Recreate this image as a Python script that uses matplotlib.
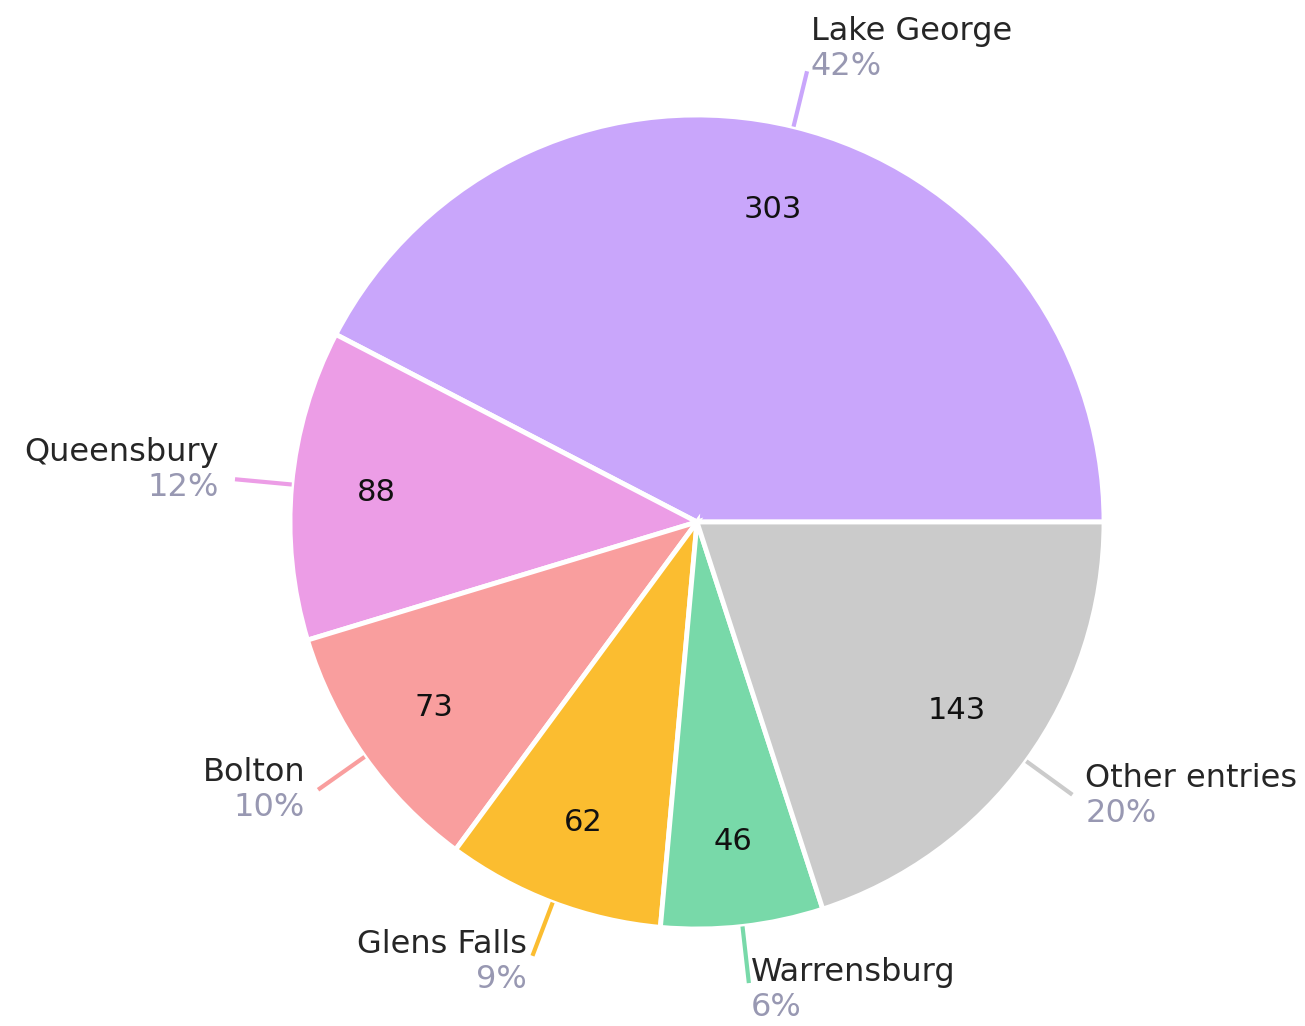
import numpy as np
import matplotlib.pyplot as plt

plt.rcdefaults()
plt.rcParams['font.family'] = ['DejaVu Sans']

towns = ['Lake George', 'Queensbury', 'Bolton', 'Glens Falls', 'Warrensburg', 'Other entries']
counts = [303, 88, 73, 62, 46, 143]
colors = ['#C9A6FB', '#EC9DE6', '#F99E9E', '#FBBD30', '#78D9A9', '#CBCBCB']

W, H = 1305, 1026
fig = plt.figure(figsize=(W / 100, H / 100), dpi=100)
ax = fig.add_axes([0, 0, 1, 1])

cx, cy, R = 697, H - 522, 407
total = sum(counts)

wedges, texts = ax.pie(
    counts, colors=colors, startangle=0, counterclock=True,
    center=(cx, cy), radius=R, labels=[str(c) for c in counts],
    labeldistance=0.79, frame=True,
    wedgeprops=dict(edgecolor='white', linewidth=3.5),
    textprops=dict(fontsize=22, color='#111111', ha='center', va='center'),
)
ax.set_xlim(0, W)
ax.set_ylim(0, H)
ax.set_aspect('equal')
ax.axis('off')

# leader lines and outside labels
for w, name, n, col in zip(wedges, towns, counts, colors):
    mid = np.deg2rad((w.theta1 + w.theta2) / 2)
    c, s = np.cos(mid), np.sin(mid)
    x0, y0 = cx + R * 1.0 * c, cy + R * 1.0 * s
    x1, y1 = cx + R * 1.14 * c, cy + R * 1.14 * s
    ax.plot([x0, x1], [y0, y1], color=col, lw=3, solid_capstyle='butt')
    tx = x1 + 16 * c
    ha = 'left' if c > 0 else 'right'
    yc = y1 + 8 + 15 * s
    ax.text(tx, yc + 17.5, name, ha=ha, va='center', fontsize=23, color='#262626')
    ax.text(tx, yc - 17.5, f'{round(100 * n / total)}%', ha=ha, va='center',
            fontsize=23, color='#9898B2')

fig.savefig('out.png', dpi=100, facecolor='white')
